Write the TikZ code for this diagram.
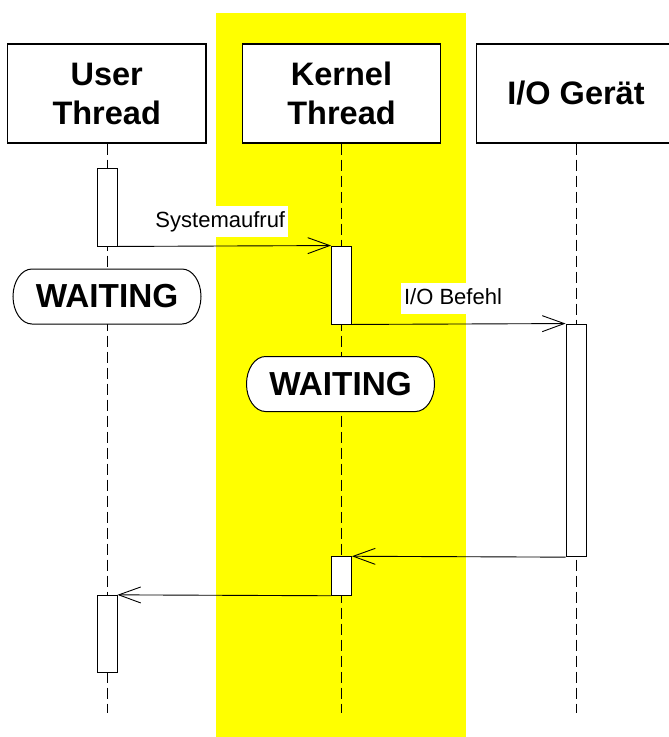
\documentclass[tikz,border=0pt]{standalone}
\usepackage{fontspec}
\setmainfont{Liberation Sans}
\usetikzlibrary{arrows.meta}
\definecolor{kernelband}{RGB}{255,255,0}
\begin{document}
\begin{tikzpicture}[x=1pt,y=1pt,
  header/.style={draw, line width=1.2pt, fill=white, minimum width=198.7pt,
    minimum height=99pt, align=center, inner sep=0pt,
    font=\bfseries\fontsize{32.5}{39}\selectfont},
  lifeline/.style={line width=1pt, dash pattern=on 11pt off 5pt},
  act/.style={draw, line width=0.9pt, fill=white, minimum width=20pt, inner sep=0pt},
  msg/.style={line width=0.9pt, -{Straight Barb[length=22pt,width=16pt]}},
  msglabel/.style={fill=white, inner xsep=3pt, inner ysep=0pt, minimum height=31pt,
    text height=16pt, text depth=5pt, font=\fontsize{22}{26}\selectfont},
  waittext/.style={font=\bfseries\fontsize{33.3}{38}\selectfont, inner sep=0pt},
  pillline/.style={draw, line width=1pt, fill=white},
  pill/.pic={
    \path[pillline] (-75,27.5) -- (75,27.5)
      arc[start angle=90, end angle=-90, x radius=19pt, y radius=27.5pt]
      -- (-75,-27.5)
      arc[start angle=270, end angle=90, x radius=19pt, y radius=27.5pt] -- cycle;
    \node[waittext] (-label) at (0,0) {WAITING};
  }
]
\clip (0,0) rectangle (669,-737);

% kernel column highlight
\fill[kernelband] (216,-13) rectangle (466,-737);

% lifeline heads
\node[header] (user)   at (106.7,-93.5) {User\\Thread};
\node[header] (kernel) at (341.5,-93.5) {Kernel\\Thread};
\node[header] (io)     at (576,-93.5)   {I/O Gerät};

% lifelines
\coordinate (userend)   at (107,-713);
\coordinate (kernelend) at (341.5,-713);
\coordinate (ioend)     at (576,-713);
\draw[lifeline] (user.south -| userend) -- (userend);
\draw[lifeline] (kernel.south) -- (kernelend);
\draw[lifeline] (io.south) -- (ioend);

% waiting states
\pic (wu) at (107,-296.5) {pill};
\pic (wk) at (340.5,-384) {pill};

% activations
\node[act, minimum height=77.3pt]  (a1)  at (107,-207.35)   {};
\node[act, minimum height=78pt]    (k1)  at (341.5,-285)    {};
\node[act, minimum height=232.7pt] (io1) at (576,-440.35)   {};
\node[act, minimum height=38.6pt]  (k2)  at (341.5,-576)    {};
\node[act, minimum height=77.4pt]  (a2)  at (107,-634)      {};

% messages
\draw[msg] (a1.south east) -- (k1.north west);
\draw[msg] (k1.south east) -- (io1.north west);
\draw[msg] (io1.south west) -- (k2.north east);
\draw[msg] (k2.south west) -- (a2.north east);

% message labels
\node[msglabel] (l1) at (220.3,-221.5) {Systemaufruf};
\node[msglabel] (l2) at (453,-298.8)   {I/O Befehl};
\end{tikzpicture}
\end{document}
